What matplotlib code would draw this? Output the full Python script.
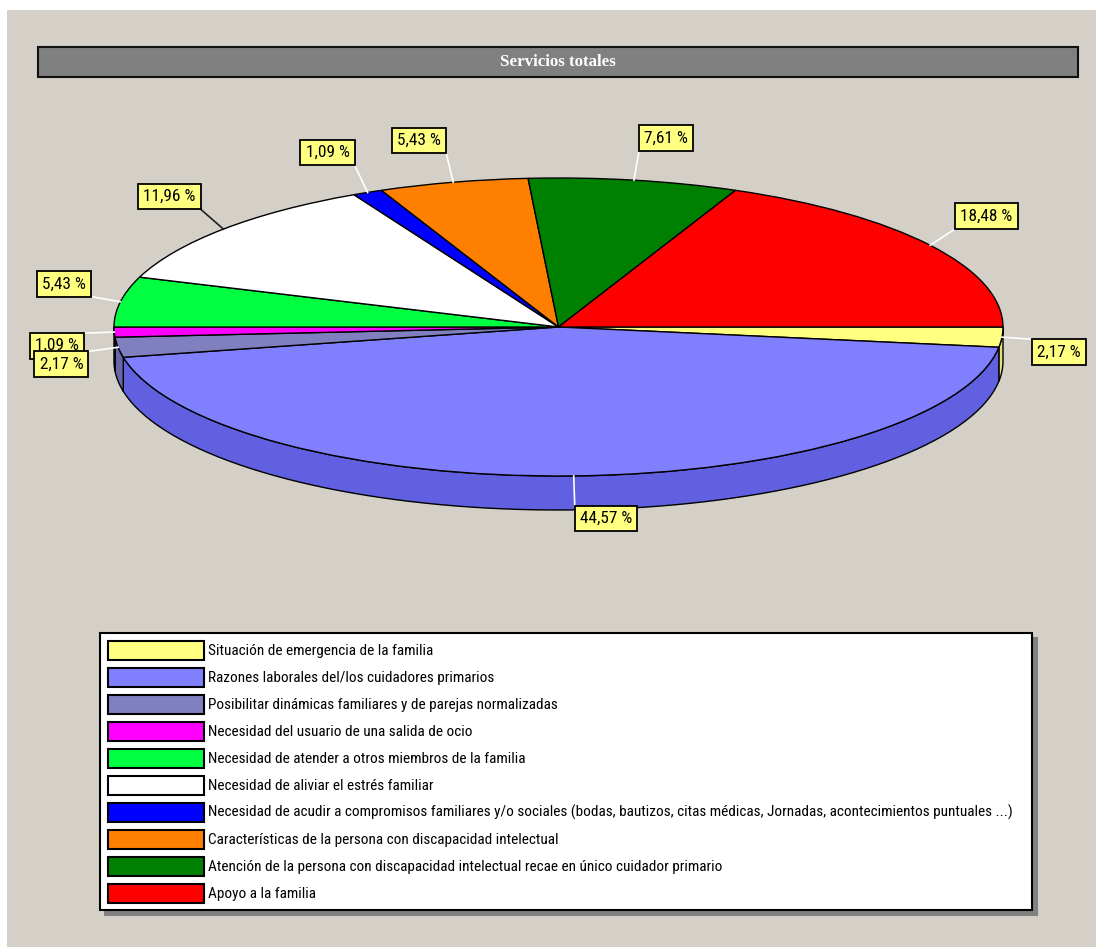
import matplotlib
matplotlib.use('Agg')
import matplotlib.pyplot as plt
import numpy as np
from matplotlib.patches import Rectangle, Polygon
from matplotlib.transforms import offset_copy
from matplotlib import font_manager as fm

# ---------------- data ----------------
categories = [
    "Situación de emergencia de la familia",
    "Razones laborales del/los cuidadores primarios",
    "Posibilitar dinámicas familiares y de parejas normalizadas",
    "Necesidad del usuario de una salida de ocio",
    "Necesidad de atender a otros miembros de la familia",
    "Necesidad de aliviar el estrés familiar",
    "Necesidad de acudir a compromisos familiares y/o sociales (bodas, bautizos, citas médicas, Jornadas, acontecimientos puntuales ...)",
    "Características de la persona con discapacidad intelectual",
    "Atención de la persona con discapacidad intelectual recae en único cuidador primario",
    "Apoyo a la familia",
]
percentages = [2.17, 44.57, 2.17, 1.09, 5.43, 11.96, 1.09, 5.43, 7.61, 18.48]
top_colors = ['#FFFF80', '#8080FF', '#8080C0', '#FF00FF', '#00FF40',
              '#FFFFFF', '#0000FF', '#FF8000', '#008000', '#FF0000']
side_colors = ['#E2E270', '#6060E0', '#6666A8', '#D000D0', '#00D030',
               '#E0E0E0', '#0000D0', '#D06800', '#006800', '#D00000']
leader_colors = ['white', 'white', 'white', 'white', 'white',
                 '#202020', 'white', 'white', 'white', 'white']
title = "Servicios totales"

# ---------------- fonts ----------------
names = {f.name for f in fm.fontManager.ttflist}
sans_fp = None
for cand in ['Liberation Sans Narrow', 'Arial Narrow', 'Roboto Condensed',
             'DejaVu Sans Condensed', 'Open Sans Condensed', 'Noto Sans Condensed']:
    if cand in names:
        sans_fp = fm.FontProperties(family=[cand, 'DejaVu Sans'])
        break
if sans_fp is None:
    cond = [f for f in fm.fontManager.ttflist
            if f.stretch in ('condensed', 'semi-condensed', 'extra-condensed')
            and f.style == 'normal' and f.weight in (400, 'normal', 'regular')
            and 'Mono' not in f.name and 'Serif' not in f.name]
    if cond:
        sans_fp = fm.FontProperties(family=[cond[0].name, 'DejaVu Sans'],
                                    stretch=cond[0].stretch)
    else:
        sans_fp = fm.FontProperties(family=['Liberation Sans', 'DejaVu Sans'])
serif_fp = fm.FontProperties(family=['Liberation Serif', 'DejaVu Serif'], weight='bold')

W, H, DPI = 1097, 947, 100
fig = plt.figure(figsize=(W / DPI, H / DPI), dpi=DPI, facecolor='white')
renderer = fig.canvas.get_renderer()


def fit_size(text, fp, target_px, max_pt):
    p = fp.copy()
    p.set_size(10)
    t = fig.text(0, 0, text, fontproperties=p)
    w = t.get_window_extent(renderer).width
    t.remove()
    return min(max_pt, 10 * target_px / w)


fs_leg = fit_size(categories[0], sans_fp, 224, 13.4)
fs_lab = fit_size("18,48 %", sans_fp, 52, 14)
fs_title = fit_size(title, serif_fp, 116, 15)

# ---------------- background & title ----------------
bg = fig.add_axes([0, 0, 1, 1])
bg.set_xlim(0, W)
bg.set_ylim(H, 0)
bg.axis('off')
bg.add_patch(Rectangle((7, 10), W - 8, H - 10, facecolor='#D4D0C8', edgecolor='none'))
bg.add_patch(Rectangle((38, 47), 1040, 30, facecolor='#808080', edgecolor='#101010', lw=1.5))
tp = serif_fp.copy()
tp.set_size(fs_title)
bg.text(558, 62, title, color='white', fontproperties=tp, ha='center', va='center')

# ---------------- pie (ellipse with depth) ----------------
x_left, x_right = 114, 1003
top_px, ry_px, depth_px = 178, 149, 34
rx_px = (x_right - x_left) / 2
d = depth_px / ry_px
bottom_px = top_px + 2 * ry_px + depth_px
ax = fig.add_axes([x_left / W, 1 - bottom_px / H, (x_right - x_left) / W,
                   (bottom_px - top_px) / H])
ax.set_axis_off()

wedges, _ = ax.pie(percentages, colors=top_colors, startangle=0, counterclock=False,
                   radius=1, wedgeprops=dict(edgecolor='black', linewidth=1))
for w in wedges:
    w.set_zorder(3)
    w.set_clip_on(False)
ax.set_aspect('auto')
ax.set_xlim(-1, 1)
ax.set_ylim(-1 - d, 1)

cum = np.concatenate([[0], np.cumsum(percentages)]) / np.sum(percentages)

for i in range(len(percentages)):
    a = -cum[i + 1] * 360
    b = -cum[i] * 360
    lo, hi = max(a, -180), min(b, 0)
    if hi > lo:
        t = np.radians(np.linspace(lo, hi, 80))
        top = np.column_stack([np.cos(t), np.sin(t)])
        bot = np.column_stack([np.cos(t), np.sin(t) - d])[::-1]
        ax.add_patch(Polygon(np.vstack([top, bot]), closed=True,
                             facecolor=side_colors[i], edgecolor='black',
                             lw=1, zorder=1, clip_on=False))

# ---------------- value labels ----------------
arrow_px = 30
pad = 0.3
pad_pt = pad * fs_lab
lp = sans_fp.copy()
lp.set_size(fs_lab)
n = len(percentages)
for i, p in enumerate(percentages):
    mid = np.radians(-(cum[i] + cum[i + 1]) / 2 * 360)
    c, s = np.cos(mid), np.sin(mid)
    axx = c * (rx_px + arrow_px) / rx_px
    ayy = s * (ry_px + arrow_px) / ry_px
    ax.plot([c, axx], [s, ayy], color=leader_colors[i], lw=1.2,
            clip_on=False, zorder=4)
    sx = 1 if c >= 0 else -1
    sy = 1 if s >= 0 else -1
    tr = offset_copy(ax.transData, fig=fig, x=sx * pad_pt, y=sy * pad_pt, units='points')
    label = f"{p:.2f}".replace('.', ',') + " %"
    ax.text(axx, ayy, label, transform=tr,
            ha='left' if c >= 0 else 'right', va='bottom' if s >= 0 else 'top',
            fontproperties=lp, color='black',
            bbox=dict(boxstyle=f'square,pad={pad}', fc='#FFFF80', ec='black', lw=1.3),
            zorder=10 + (n - i), clip_on=False)

# ---------------- legend ----------------
fs_px = fs_leg * DPI / 72
lgp = sans_fp.copy()
lgp.set_size(fs_leg)
hh = (19 / fs_px - 0.245) / 0.65
leg = fig.legend(wedges, categories, loc='upper left',
                 bbox_to_anchor=(100 / W, 1 - 633 / H, 932 / W, 0),
                 mode='expand', borderaxespad=0, ncol=1, prop=lgp,
                 handlelength=96 / fs_px, handleheight=hh, handletextpad=5 / fs_px,
                 labelspacing=8 / fs_px, borderpad=7.5 / fs_px,
                 frameon=True, fancybox=False,
                 edgecolor='black', framealpha=1,
                 shadow={'ox': 3.5, 'oy': -3.5, 'color': '#808080', 'alpha': 1})
leg.get_frame().set_linewidth(1.5)
for h in leg.legend_handles:
    h.set_linewidth(1.5)

fig.savefig('out.png', dpi=DPI, facecolor='white')
